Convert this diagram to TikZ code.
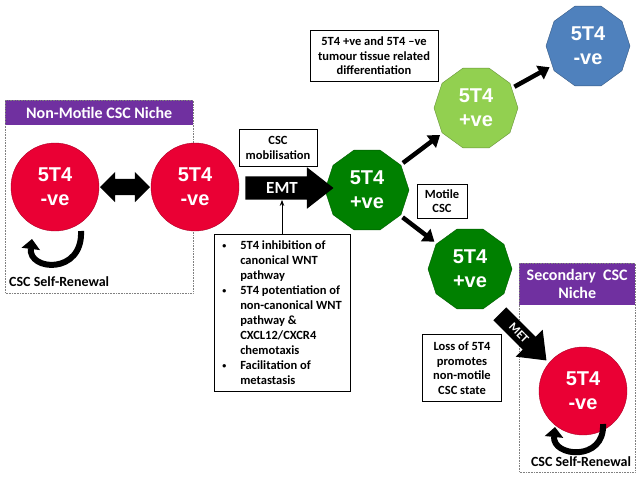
\documentclass[tikz,border=0pt]{standalone}
\usepackage{fontspec}
\setmainfont{Carlito}
\newfontfamily\arialfont{Liberation Sans}
\usetikzlibrary{arrows.meta,shapes.geometric,shapes.arrows}

\definecolor{negred}{RGB}{234,0,52}
\definecolor{posdark}{RGB}{0,128,0}
\definecolor{poslight}{RGB}{146,208,80}
\definecolor{negblue}{RGB}{79,129,189}
\definecolor{nichepurple}{RGB}{112,48,160}

\newcommand{\bul}{\makebox[18pt][l]{\raisebox{1pt}{\fontsize{8}{8}\selectfont\textbullet}}}
\newcommand{\ind}{\hspace*{18pt}}

\begin{document}
\begin{tikzpicture}[x=1pt, y=-1pt,
		cell/.style={text=white, align=center, inner sep=0pt,
				font=\arialfont\bfseries\fontsize{20}{24}\selectfont},
		negcell/.style={cell, circle, fill=negred, draw=negred!75!black,
				line width=0.4pt, minimum size=88pt},
		poscell/.style={cell, regular polygon, regular polygon sides=10,
				minimum size=84pt, line width=0.4pt},
		note/.style={draw, fill=white, line width=0.6pt, align=center, inner sep=2pt,
				font=\bfseries\fontsize{12.5}{14.5}\selectfont},
		nichehead/.style={fill=nichepurple, text=white, align=center, anchor=north west,
				inner sep=0pt, font=\bfseries\fontsize{16}{18}\selectfont},
		nicheframe/.style={draw=gray, densely dotted, line width=0.6pt},
		blockarr/.style={single arrow, fill=black, text=white, single arrow head extend=9pt,
				single arrow tip angle=76, inner xsep=2pt, inner ysep=6pt,
				font=\bfseries\fontsize{17}{17}\selectfont},
		fatarr/.style={line width=4.5pt, -{Triangle[length=11pt,width=15pt]},
				shorten <=3pt, shorten >=3pt},
		renew/.style={line width=6pt, -{Triangle[length=10pt,width=18pt]}},
		thinarr/.style={line width=0.8pt, -{Stealth[length=6pt]}},
		renewtext/.style={font=\bfseries\fontsize{14}{16}\selectfont, inner sep=0pt}
		]
		\useasboundingbox (0,0) rectangle (640,479);
		% niches
		\node[nichehead, minimum width=188pt, minimum height=25pt] (nicheL) at (5,100) {Non-Motile CSC Niche};
		\draw[nicheframe] (nicheL.north west) rectangle ++(188,193);
		\node[nichehead, minimum width=116pt, minimum height=42pt] (nicheR) at (519,263) {Secondary~~CSC\\Niche};
		\draw[nicheframe] (nicheR.north west) rectangle ++(116,209);
		% cells
		\node[negcell] (negA) at (55,187) {5T4\\-ve};
		\node[negcell] (negB) at (195,187) {5T4\\-ve};
		\node[poscell, fill=posdark, draw=posdark!70!black] (posA) at (367,190) {5T4\\+ve};
		\node[poscell, fill=poslight, draw=poslight!70!black] (posB) at (476,108) {5T4\\+ve};
		\node[poscell, fill=negblue, draw=negblue!70!black] (negC) at (588,46) {5T4\\-ve};
		\node[poscell, fill=posdark, draw=posdark!70!black] (posC) at (470,269) {5T4\\+ve};
		\node[negcell] (negD) at (583,391) {5T4\\-ve};
		% block arrows
		\node[double arrow, fill=black, minimum height=50pt, inner xsep=0pt, inner ysep=8pt,
			double arrow head extend=7pt] (swap) at (125,187) {};
		\node[blockarr, minimum height=88pt] (emt) at (282,188) {EMT};
		\node[blockarr, rotate=-45, minimum height=66pt, inner ysep=5pt, single arrow head extend=10pt,
			font=\bfseries\fontsize{12}{12}\selectfont] (met) at (519,333) {MET};
		% notes
		\node[note, minimum width=78pt, minimum height=37pt] (mobil) at (278,148) {CSC\\mobilisation};
		\node[note, minimum width=128pt, minimum height=51pt] (diff) at (374,56)
			{5T4 +ve and 5T4 –ve\\tumour tissue related\\differentiation};
		\node[note, minimum width=50pt, minimum height=34pt] (motile) at (442,201) {Motile\\CSC};
		\node[note, minimum width=79pt, minimum height=67pt] (loss) at (462,368)
			{Loss of 5T4\\promotes\\non-motile\\CSC state};
		\node[note, align=left, minimum width=136pt, minimum height=157pt,
			font=\bfseries\fontsize{12.5}{15}\selectfont] (factors) at (282,313)
			{\bul 5T4 inhibition of\\ \ind canonical WNT\\ \ind pathway\\
			 \bul 5T4 potentiation of\\ \ind non-canonical WNT\\ \ind pathway \&\\
			 \ind CXCL12/CXCR4\\ \ind chemotaxis\\
			 \bul Facilitation of\\ \ind metastasis};
		% connectors
		\draw[thinarr] (factors.north) -- (factors.north |- emt.south);
		\draw[fatarr] (posA) -- (posB);
		\draw[fatarr] (posB) -- (negC);
		\draw[fatarr] (posA) -- (posC);
		\draw[renew] ([shift={(26,44)}]negA.center) .. controls +(2,44) and +(-4,32) .. ([shift={(-23,52)}]negA.center);
		\draw[renew] ([shift={(20,33)}]negD.center) .. controls +(2,38) and +(-3,30) .. ([shift={(-28,36)}]negD.center);
		\node[renewtext, anchor=west] (renewL) at (9,282) {CSC Self-Renewal};
		\node[renewtext] (renewR) at (581,462) {CSC Self-Renewal};
	\end{tikzpicture}
\end{document}
